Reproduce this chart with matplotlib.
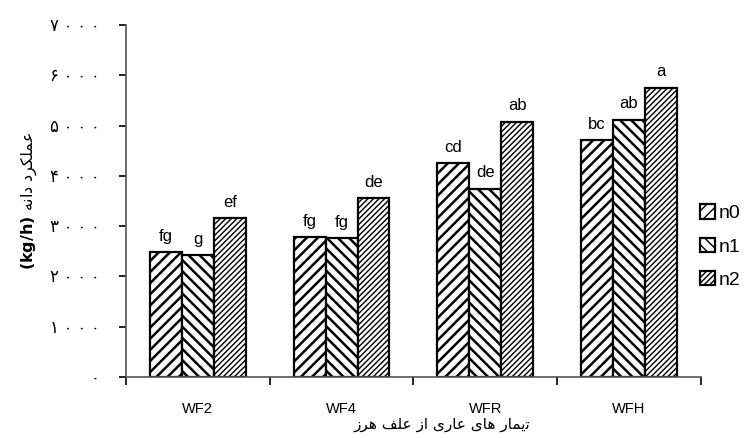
import matplotlib
matplotlib.use("Agg")
import matplotlib.pyplot as plt
import numpy as np

plt.rcParams['font.family'] = ['Liberation Sans', 'DejaVu Sans']

categories = ['WF2', 'WF4', 'WFR', 'WFH']
series = ['n0', 'n1', 'n2']
n0 = [2480, 2780, 4250, 4710]
n1 = [2420, 2760, 3740, 5110]
n2 = [3160, 3550, 5070, 5750]
letters_n0 = ['fg', 'fg', 'cd', 'bc']
letters_n1 = ['g', 'fg', 'de', 'ab']
letters_n2 = ['ef', 'de', 'ab', 'a']
yticks = [0, 1000, 2000, 3000, 4000, 5000, 6000, 7000]
ytick_labels = ['\u06f0', '\u06f1 \u06f0 \u06f0 \u06f0', '\u06f2 \u06f0 \u06f0 \u06f0',
                '\u06f3 \u06f0 \u06f0 \u06f0', '\u06f4 \u06f0 \u06f0 \u06f0',
                '\u06f5 \u06f0 \u06f0 \u06f0', '\u06f6 \u06f0 \u06f0 \u06f0',
                '\u06f7 \u06f0 \u06f0 \u06f0']

# pre-shaped persian text (presentation forms, visual order)
xlabel = ('\ufeaf\ufeae\ufeeb \ufed2\ufee0\ufecb \ufeaf\ufe8d '
          '\ufbfc\ufead\ufe8e\ufecb \ufbfc\ufe8e\ufeeb \ufead\ufe8e\ufee4\ufbfe\ufe97')
ylabel_fa = '\ufeea\ufee7\ufe8d\ufea9 \ufea9\ufeae\ufb91\ufee0\ufee4\ufecb'

fig = plt.figure(figsize=(7.48, 4.38), dpi=100)
ax = fig.add_axes([0.1684, 0.1393, 0.7686, 0.8037])

x = np.arange(len(categories))
w = 0.222
data = [n0, n1, n2]
hatches = ['///', '\\\\\\', '//////']
hlw = [1.8, 1.8, 1.0]
labels = [letters_n0, letters_n1, letters_n2]
for i in range(3):
    plt.rcParams['hatch.linewidth'] = hlw[i]
    ax.bar(x + (i - 1) * w, data[i], w, color='white', edgecolor='black',
           linewidth=1.6, hatch=hatches[i], label=series[i])
    for xi, v, t in zip(x + (i - 1) * w, data[i], labels[i]):
        ax.text(xi, v + 170, t, ha='center', va='bottom', fontsize=12)

ax.set_xlim(-0.5, 3.5)
ax.set_ylim(0, 7000)
ax.set_yticks(yticks)
ax.set_yticklabels(ytick_labels, fontsize=12)
ax.set_xticks(x)
ax.set_xticklabels(categories, fontsize=10.5)
ax.set_xticks(np.arange(-0.5, 4, 1), minor=True)
ax.tick_params(axis='x', which='major', length=0, pad=18)
ax.tick_params(axis='x', which='minor', length=6, direction='out', width=1.2)
ax.tick_params(axis='y', length=5, direction='out', width=1.2, pad=14)
for s in ['top', 'right']:
    ax.spines[s].set_visible(False)
for s in ['left', 'bottom']:
    ax.spines[s].set_color('#555555')
    ax.spines[s].set_linewidth(1.2)

ax.set_xlabel(xlabel, fontsize=11, family=['DejaVu Sans'])
ax.xaxis.set_label_coords(0.55, -0.113)
ax.xaxis.label.set_va('top')
ax.set_ylabel(r'$\mathbf{(kg/h)}$ ' + ylabel_fa, fontsize=11.5, labelpad=8,
              family=['DejaVu Sans'])

ax.legend(loc='center left', bbox_to_anchor=(0.968, 0.37), frameon=False,
          fontsize=14, handlelength=0.75, handleheight=0.75, handletextpad=0.2,
          labelspacing=0.8)

fig.savefig('out.png', dpi=100)
